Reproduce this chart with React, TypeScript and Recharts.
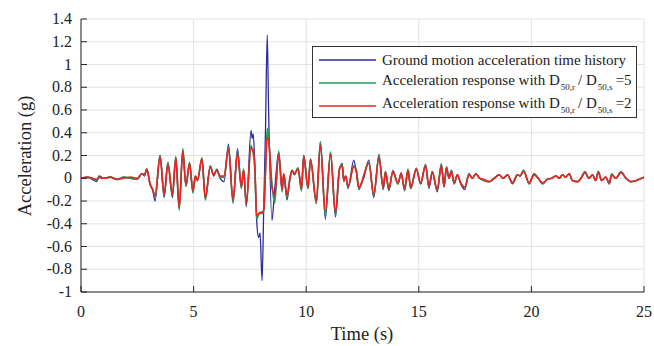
import React from 'react';
import { LineChart, Line, XAxis, YAxis, CartesianGrid } from 'recharts';

// time (s)
const time = [
  0, 0.3, 0.5, 0.7, 0.8, 1.0, 1.3, 1.6, 1.9, 2.2,
  2.5, 2.7, 2.82, 2.92, 3.07, 3.18, 3.29, 3.51, 3.69, 3.86,
  4.06, 4.21, 4.36, 4.52, 4.66, 4.82, 4.97, 5.08, 5.17, 5.37,
  5.52, 5.74, 5.89, 6.03, 6.18, 6.35, 6.55, 6.75, 6.95, 7.12,
  7.22, 7.34, 7.55, 7.6, 7.65, 7.72, 7.8, 7.89, 7.95, 8.04,
  8.12, 8.19, 8.27, 8.33, 8.48, 8.6, 8.78, 8.93, 9.0, 9.15,
  9.27, 9.37, 9.47, 9.64, 9.79, 9.89, 10.08, 10.19, 10.45, 10.63,
  10.85, 11.08, 11.3, 11.48, 11.6, 11.67, 11.75, 11.86, 12.11, 12.22,
  12.34, 12.45, 12.55, 12.78, 13.0, 13.23, 13.42, 13.52, 13.67, 13.85,
  14.07, 14.22, 14.37, 14.52, 14.64, 14.89, 15.08, 15.3, 15.45, 15.6,
  15.82, 16.0, 16.12, 16.23, 16.34, 16.45, 16.57, 16.71, 16.86, 17.04,
  17.23, 17.38, 17.53, 17.7, 17.9, 18.12, 18.35, 18.56, 18.75, 18.94,
  19.16, 19.38, 19.5, 19.65, 19.9, 20.12, 20.3, 20.5, 20.7, 20.9,
  21.09, 21.24, 21.38, 21.52, 21.68, 21.82, 22.05, 22.2, 22.38, 22.55,
  22.72, 22.85, 22.97, 23.12, 23.3, 23.46, 23.56, 23.75, 23.98, 24.2,
  24.42, 24.65, 24.9, 25,
];

// ground motion acceleration (g)
const ground = [
  0, 0.01, -0.01, -0.03, 0.02, 0, 0.01, -0.01, 0.01, 0,
  -0.01, 0.04, 0.02, 0.08, -0.06, -0.1, -0.2, 0.2, -0.17, 0.13,
  -0.17, 0.18, -0.26, 0.24, -0.07, 0.13, -0.12, 0.02, -0.02, 0.17,
  -0.18, 0.1, 0.02, 0.08, 0, -0.03, 0.3, -0.2, 0.26, -0.08,
  0.07, -0.25, 0.42, 0.35, 0.39, 0.1, -0.37, -0.52, -0.48, -0.9,
  -0.2, 0.4, 1.26, 0.6, -0.37, -0.1, 0.23, -0.1, 0.03, -0.19,
  -0.02, 0.07, 0.03, 0.09, -0.1, 0.2, -0.09, 0.17, -0.22, 0.32,
  -0.36, 0.23, -0.34, 0.08, 0.13, -0.03, 0.02, -0.09, 0.16, 0.06,
  -0.1, -0.04, 0, 0.16, -0.17, 0.21, -0.1, 0.06, -0.11, 0.07,
  -0.05, 0.05, -0.11, 0.07, -0.09, 0.08, -0.05, 0.12, -0.09, 0.06,
  -0.12, 0.12, -0.08, 0.1, 0, 0.07, -0.05, 0.03, -0.05, -0.1,
  0.04, 0, 0.04, 0, -0.02, -0.03, 0, 0.03, 0, 0.03,
  -0.05, 0.03, 0.02, 0.07, -0.05, 0.04, 0, -0.05, -0.01, 0,
  0.02, 0, 0.03, 0.01, 0.04, -0.02, -0.03, 0, 0.05, 0,
  0.03, -0.02, 0.06, -0.02, 0.01, -0.05, 0.03, 0, 0.05, 0,
  -0.03, -0.02, 0, 0.01,
];

// response with D50,r / D50,s = 5
const resp5 = [
  0, 0.005, 0, -0.02, 0.01, 0, 0.01, -0.01, 0.01, 0,
  -0.01, 0.04, 0.03, 0.08, -0.05, -0.1, -0.16, 0.2, -0.15, 0.14,
  -0.15, 0.19, -0.28, 0.26, -0.07, 0.14, -0.13, 0.02, -0.02, 0.18,
  -0.19, 0.11, 0.03, 0.07, 0.01, 0.01, 0.27, -0.22, 0.24, -0.09,
  0.08, -0.23, 0.29, 0.25, 0.22, 0.08, -0.36, -0.32, -0.31, -0.31,
  -0.28, 0.05, 0.44, 0.35, -0.05, -0.22, 0.24, -0.12, 0.04, -0.17,
  -0.01, 0.07, 0.04, 0.09, -0.11, 0.2, -0.09, 0.17, -0.22, 0.32,
  -0.33, 0.23, -0.32, 0.09, 0.12, -0.02, 0.02, -0.08, 0.11, 0.07,
  -0.09, -0.05, 0.02, 0.14, -0.15, 0.19, -0.09, 0.06, -0.1, 0.06,
  -0.05, 0.04, -0.1, 0.08, -0.09, 0.09, -0.05, 0.12, -0.08, 0.06,
  -0.11, 0.13, -0.07, 0.1, 0, 0.07, -0.05, 0.03, -0.04, -0.08,
  0.04, 0, 0.04, 0, -0.02, -0.03, 0, 0.03, 0, 0.03,
  -0.04, 0.03, 0.02, 0.07, -0.05, 0.04, 0, -0.05, -0.01, 0,
  0.02, 0, 0.03, 0.01, 0.04, -0.02, -0.03, 0, 0.06, 0,
  0.03, -0.02, 0.06, -0.02, 0.01, -0.05, 0.04, 0, 0.06, 0,
  -0.03, -0.02, 0, 0.01,
];

// response with D50,r / D50,s = 2
const resp2 = [
  0, 0.01, 0, -0.01, 0.01, 0, 0.01, -0.01, 0, 0.01,
  0, 0.04, 0.03, 0.08, -0.05, -0.1, -0.15, 0.19, -0.14, 0.12,
  -0.14, 0.18, -0.26, 0.24, -0.06, 0.13, -0.11, 0.02, -0.02, 0.17,
  -0.17, 0.1, 0.03, 0.07, 0.02, 0.02, 0.26, -0.19, 0.22, -0.07,
  0.07, -0.22, 0.27, 0.26, 0.24, 0.1, -0.33, -0.31, -0.3, -0.3,
  -0.27, 0.05, 0.36, 0.34, -0.08, -0.15, 0.21, -0.1, 0.04, -0.15,
  -0.01, 0.07, 0.04, 0.08, -0.09, 0.19, -0.08, 0.16, -0.2, 0.29,
  -0.29, 0.21, -0.3, 0.08, 0.11, -0.02, 0.02, -0.07, 0.1, 0.07,
  -0.08, -0.05, 0.02, 0.13, -0.14, 0.18, -0.08, 0.05, -0.09, 0.06,
  -0.04, 0.04, -0.09, 0.07, -0.08, 0.08, -0.04, 0.11, -0.07, 0.05,
  -0.1, 0.11, -0.07, 0.09, 0, 0.06, -0.04, 0.03, -0.04, -0.08,
  0.03, 0, 0.04, 0, -0.01, -0.03, 0, 0.03, 0, 0.03,
  -0.04, 0.03, 0.02, 0.06, -0.04, 0.03, 0, -0.04, -0.01, 0,
  0.02, 0, 0.03, 0.01, 0.04, -0.02, -0.03, 0, 0.05, 0,
  0.03, -0.02, 0.05, -0.02, 0.01, -0.04, 0.03, 0, 0.05, 0,
  -0.03, -0.02, 0, 0.01,
];

const xTicks = [0, 5, 10, 15, 20, 25];
const yTicks = [-1, -0.8, -0.6, -0.4, -0.2, 0, 0.2, 0.4, 0.6, 0.8, 1, 1.2, 1.4];

const data = time.map((t, i) => ({ t, ground: ground[i], r5: resp5[i], r2: resp2[i] }));

const FONT = '"Liberation Serif", "Times New Roman", serif';
const AXIS = '#262626';
const BLUE = '#2a2a9c';
const GREEN = '#1f9d55';
const RED = '#ee2222';
const txt = { fontFamily: FONT, fill: '#222' };

// ticks point inward, like the MATLAB figure
const LeftTick = (p: any) => (
  <g>
    <line x1={p.x} x2={p.x + 6} y1={p.y} y2={p.y} stroke={AXIS} />
    <text x={p.x - 9} y={p.y + 5} textAnchor="end" style={{ ...txt, fontSize: 16 }}>
      {p.payload.value}
    </text>
  </g>
);
const BottomTick = (p: any) => (
  <g>
    <line x1={p.x} x2={p.x} y1={p.y} y2={p.y - 6} stroke={AXIS} />
    <text x={p.x} y={p.y + 25} textAnchor="middle" style={{ ...txt, fontSize: 16 }}>
      {p.payload.value}
    </text>
  </g>
);
const RightTick = (p: any) => <line x1={p.x} x2={p.x - 6} y1={p.y} y2={p.y} stroke={AXIS} />;
const TopTick = (p: any) => <line x1={p.x} x2={p.x} y1={p.y} y2={p.y + 6} stroke={AXIS} />;

const sub = { fontSize: 9, verticalAlign: -5, margin: '0 3px 0 1px' } as const;

const legendRows = [
  { color: BLUE, text: <>Ground motion acceleration time history</> },
  { color: GREEN, text: <>Acceleration response with D<span style={sub}>50,r</span>/ D<span style={sub}>50,s</span>=5</> },
  { color: RED, text: <>Acceleration response with D<span style={sub}>50,r</span>/ D<span style={sub}>50,s</span>=2</> },
];

export default function App() {
  return (
    <div style={{ position: 'absolute', left: 0, top: 0, width: 654, height: 346, background: '#fff' }}>
      <LineChart width={654} height={346} data={data} margin={{ top: 19, right: 10, left: 0, bottom: 0 }}>
        <CartesianGrid stroke="#e3e3e3" strokeWidth={1} />
        <XAxis
          dataKey="t"
          type="number"
          domain={[0, 25]}
          ticks={xTicks}
          interval={0}
          height={54}
          tickSize={0}
          tickMargin={0}
          tick={BottomTick}
          stroke={AXIS}
          label={{
            content: () => (
              <text x={362} y={340} textAnchor="middle" style={{ ...txt, fontSize: 18.5 }}>
                Time (s)
              </text>
            ),
          }}
        />
        <XAxis
          xAxisId="top"
          orientation="top"
          type="number"
          domain={[0, 25]}
          ticks={xTicks}
          interval={0}
          height={0}
          tickSize={0}
          tickMargin={0}
          tick={TopTick}
          stroke={AXIS}
        />
        <YAxis
          type="number"
          domain={[-1, 1.4]}
          ticks={yTicks}
          interval={0}
          width={81}
          tickSize={0}
          tickMargin={0}
          tick={LeftTick}
          stroke={AXIS}
          allowDataOverflow
          label={{
            content: () => (
              <text
                x={27}
                y={156}
                transform="rotate(-90 27 156)"
                textAnchor="middle"
                dominantBaseline="middle"
                style={{ ...txt, fontSize: 18.5 }}
              >
                Acceleration (g)
              </text>
            ),
          }}
        />
        <YAxis
          yAxisId="right"
          orientation="right"
          type="number"
          domain={[-1, 1.4]}
          ticks={yTicks}
          interval={0}
          width={0}
          tickSize={0}
          tickMargin={0}
          tick={RightTick}
          stroke={AXIS}
        />
        <Line type="monotone" dataKey="ground" stroke={BLUE} strokeWidth={1.3} dot={false} isAnimationActive={false} />
        <Line type="monotone" dataKey="r5" stroke={GREEN} strokeWidth={1.6} dot={false} isAnimationActive={false} />
        <Line type="monotone" dataKey="r2" stroke={RED} strokeWidth={1.6} dot={false} isAnimationActive={false} />
      </LineChart>
      <div
        style={{
          position: 'absolute',
          left: 312,
          top: 46,
          width: 323,
          height: 70,
          border: '1px solid #333',
          background: '#fff',
          fontFamily: FONT,
          fontSize: 15,
          color: '#222',
          boxSizing: 'content-box',
        }}
      >
        {legendRows.map((r, i) => (
          <div
            key={i}
            style={{ position: 'absolute', left: 6, top: 3 + i * 23, height: 20, display: 'flex', alignItems: 'center', whiteSpace: 'nowrap' }}
          >
            <svg width={57} height={4} style={{ marginRight: 6, display: 'block' }}>
              <line x1={0} x2={57} y1={2} y2={2} stroke={r.color} strokeWidth={1.5} />
            </svg>
            <span style={{ lineHeight: '20px' }}>{r.text}</span>
          </div>
        ))}
      </div>
    </div>
  );
}
